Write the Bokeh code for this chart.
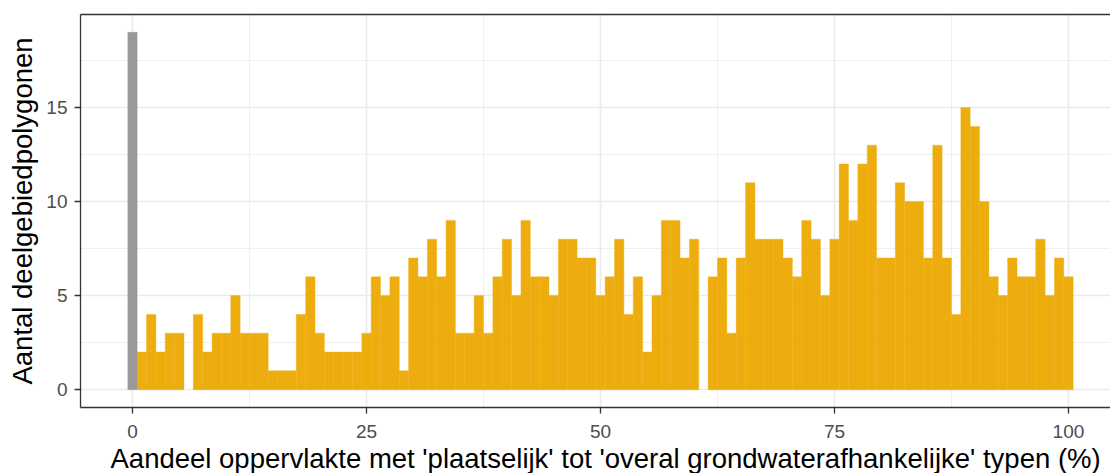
from bokeh.plotting import figure
from bokeh.models import FixedTicker, LinearAxis, Range1d, ColumnDataSource, Title
from bokeh.embed import file_html
from bokeh.resources import INLINE

# Histogram bins (bin centre in %, width 1)
zero_bin = [0]
zero_count = [19]

bin_centres = list(range(1, 101))
counts = [
    2, 4, 2, 3, 3, 0, 4, 2, 3, 3,      # 1-10
    5, 3, 3, 3, 1, 1, 1, 4, 6, 3,      # 11-20
    2, 2, 2, 2, 3, 6, 5, 6, 1, 7,      # 21-30
    6, 8, 6, 9, 3, 3, 5, 3, 6, 8,      # 31-40
    5, 9, 6, 6, 5, 8, 8, 7, 7, 5,      # 41-50
    6, 8, 4, 6, 2, 5, 9, 9, 7, 8,      # 51-60
    0, 6, 7, 3, 7, 11, 8, 8, 8, 7,     # 61-70
    6, 9, 8, 5, 8, 12, 9, 12, 13, 7,   # 71-80
    7, 11, 10, 10, 7, 13, 7, 4, 15, 14,  # 81-90
    10, 6, 5, 7, 6, 6, 8, 5, 7, 6,     # 91-100
]

x_ticks = [0, 25, 50, 75, 100]
y_ticks = [0, 5, 10, 15]

x_title = "Aandeel oppervlakte met 'plaatselijk' tot 'overal grondwaterafhankelijke' typen (%)"
y_title = "Aantal deelgebiedpolygonen"

FONT = "Liberation Sans"

p = figure(width=1110, height=473,
           x_range=Range1d(-5.556, 104.49), y_range=Range1d(-0.95, 19.95),
           output_backend="svg", toolbar_location=None,
           min_border_left=80, min_border_right=0, min_border_top=14, min_border_bottom=65)
p.outline_line_color = None
p.background_fill_color = "white"
p.border_fill_color = "white"

# gridlines
for g in (p.xgrid, p.ygrid):
    g.grid_line_color = "#EBEBEB"
    g.grid_line_width = 1.6
    g.minor_grid_line_color = "#EBEBEB"
    g.minor_grid_line_width = 0.8

p.xaxis.ticker = FixedTicker(ticks=x_ticks, minor_ticks=[12.5, 37.5, 62.5, 87.5])
p.yaxis.ticker = FixedTicker(ticks=y_ticks, minor_ticks=[2.5, 7.5, 12.5, 17.5])

for ax in (p.xaxis, p.yaxis):
    ax.axis_line_color = "#333333"
    ax.axis_line_width = 1.3
    ax.major_tick_line_color = "#333333"
    ax.major_tick_line_width = 1.3
    ax.major_tick_out = 6
    ax.major_tick_in = 0
    ax.minor_tick_out = 0
    ax.minor_tick_in = 0
    ax.major_label_text_font = FONT
    ax.major_label_text_font_size = "19px"
    ax.major_label_text_color = "#4D4D4D"
    ax.axis_label_text_font = FONT
    ax.axis_label_text_font_size = "27.5px"
    ax.axis_label_text_font_style = "normal"
    ax.axis_label_text_color = "#000000"

p.yaxis.axis_label = y_title
p.xaxis.major_label_standoff = 11
p.yaxis.major_label_standoff = 7
p.yaxis.axis_label_standoff = 5

# x-axis title (as a title below, positioned like the reference)
xt = Title(text=x_title, align="left", offset=30, standoff=0,
           text_font=FONT, text_font_size="27.5px", text_font_style="normal",
           text_color="#000000")
p.add_layout(xt, "below")

# top border line
top = LinearAxis(ticker=FixedTicker(ticks=[]), major_label_text_font_size="0px",
                 major_tick_out=0, major_tick_in=0, minor_tick_out=0, minor_tick_in=0,
                 major_label_standoff=0, axis_line_color="#333333", axis_line_width=1.3)
p.add_layout(top, "above")

# bars
nz = [(x, c) for x, c in zip(bin_centres, counts) if c > 0]
src = ColumnDataSource(dict(x=[a for a, _ in nz], top=[b for _, b in nz]))
p.vbar(x="x", top="top", bottom=0, width=1, source=src,
       fill_color="#EEAD0E", line_color="#EEAD0E", line_width=0.4)

zsrc = ColumnDataSource(dict(x=zero_bin, top=zero_count))
p.vbar(x="x", top="top", bottom=0, width=1, source=zsrc,
       fill_color="#999999", line_color="#999999", line_width=0.4)

open("out.html", "w").write(file_html(p, INLINE))
